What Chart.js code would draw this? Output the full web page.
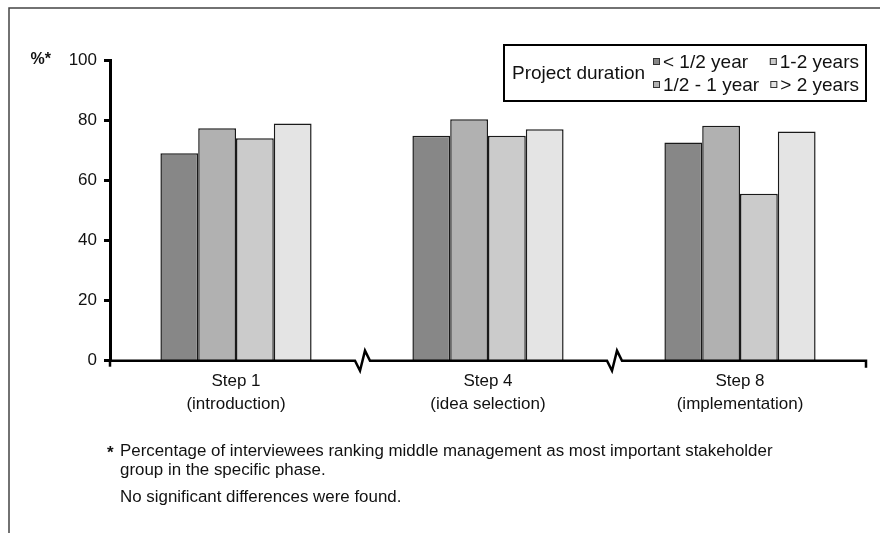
<!DOCTYPE html>
<html>
<head>
<meta charset="utf-8">
<script src="https://cdn.jsdelivr.net/npm/chart.js@4.4.1/dist/chart.umd.min.js"></script>
<style>
  html, body { margin: 0; padding: 0; background: #ffffff; }
  #wrap { width: 880px; height: 533px; position: relative; }
</style>
</head>
<body>
<div id="wrap"><canvas id="c" width="880" height="533"></canvas></div>
<script>
// Phases of the idea-management process (two-line axis labels)
const categories = [
  ["Step 1", "(introduction)"],
  ["Step 4", "(idea selection)"],
  ["Step 8", "(implementation)"]
];
// Project duration groups
const durations = ["< 1/2 year", "1/2 - 1 year", "1-2 years", "> 2 years"];
// Share of interviewees (%) per phase
const lessThanHalfYear = [69.0, 74.8, 72.6];
const halfToOneYear    = [77.3, 80.3, 78.1];
const oneToTwoYears    = [74.0, 74.8, 55.5];
const moreThanTwoYears = [78.9, 77.0, 76.2];
const yTicks = [0, 20, 40, 60, 80, 100];

const yTitle = "%*";
const legendTitle = "Project duration";
const footnoteMark = "*";
const footnoteLines = [
  "Percentage of interviewees ranking middle management as most important stakeholder",
  "group in the specific phase."
];
const footnoteExtra = "No significant differences were found.";

const fills = ["#878787", "#b1b1b1", "#cbcbcb", "#e4e4e4"];
const FONT = "'Liberation Sans', Arial, sans-serif";
const INK = "#111111";

// Frame, axis line with break marks, legend box and footnote
const decorations = {
  id: "decorations",
  afterDatasetsDraw(chart) {
    const ctx = chart.ctx;
    const x = chart.scales.x, y = chart.scales.y;
    const y0 = y.getPixelForValue(0);
    ctx.save();
    ctx.strokeStyle = "#000";
    ctx.lineWidth = 2.5;
    ctx.lineJoin = "miter";
    // x axis with zig-zag breaks between phases
    ctx.beginPath();
    ctx.moveTo(x.left - 6, y0);
    for (let i = 0; i < categories.length - 1; i++) {
      const b = x.getPixelForValue(i + 0.5);
      ctx.lineTo(b - 7, y0);
      ctx.lineTo(b - 2, y0 + 10);
      ctx.lineTo(b + 3, y0 - 10);
      ctx.lineTo(b + 8, y0);
    }
    ctx.lineTo(x.right, y0);
    ctx.lineTo(x.right, y0 + 7);
    ctx.stroke();
    // y axis runs slightly past the origin
    ctx.beginPath();
    ctx.moveTo(y.right, y0);
    ctx.lineTo(y.right, y0 + 6);
    ctx.stroke();
    ctx.restore();
  },
  afterDraw(chart) {
    const ctx = chart.ctx;
    const y = chart.scales.y;
    ctx.save();
    // outer frame (top and left)
    ctx.strokeStyle = "#444";
    ctx.lineWidth = 1.5;
    ctx.beginPath();
    ctx.moveTo(9, 533);
    ctx.lineTo(9, 8);
    ctx.lineTo(880, 8);
    ctx.stroke();

    // y axis title
    ctx.fillStyle = INK;
    ctx.font = "bold 16px " + FONT;
    ctx.textAlign = "right";
    ctx.textBaseline = "middle";
    ctx.fillText(yTitle, 51, y.getPixelForValue(100));

    // legend box
    const bx = 504, by = 45, bw = 362, bh = 56;
    ctx.fillStyle = "#fff";
    ctx.fillRect(bx, by, bw, bh);
    ctx.strokeStyle = "#000";
    ctx.lineWidth = 2;
    ctx.strokeRect(bx, by, bw, bh);
    ctx.fillStyle = INK;
    ctx.font = "19px " + FONT;
    ctx.textBaseline = "middle";
    ctx.textAlign = "left";
    ctx.fillText(legendTitle, 512, by + bh / 2 + 1);
    const rowY = [by + 17, by + 40];
    chart.data.datasets.forEach((ds, i) => {
      const col = Math.floor(i / 2), row = i % 2;
      const my = rowY[row];
      let mx, tx;
      if (col === 0) {
        mx = 653; tx = mx + 10;
        ctx.textAlign = "left";
      } else {
        tx = 859;
        ctx.textAlign = "right";
        mx = tx - ctx.measureText(ds.label).width - 10;
      }
      ctx.fillStyle = ds.backgroundColor;
      ctx.fillRect(mx, my - 4, 7, 7);
      ctx.strokeStyle = "#333";
      ctx.lineWidth = 1;
      ctx.strokeRect(mx + 0.5, my - 3.5, 6, 6);
      ctx.fillStyle = INK;
      ctx.fillText(ds.label, tx, my + 1);
    });

    // footnote
    ctx.textAlign = "left";
    ctx.font = "bold 17px " + FONT;
    ctx.fillText(footnoteMark, 107, 453);
    ctx.font = "16.9px " + FONT;
    ctx.fillText(footnoteLines[0], 120, 451);
    ctx.fillText(footnoteLines[1], 120, 470);
    ctx.fillText(footnoteExtra, 120, 497);
    ctx.restore();
  }
};

const seriesValues = [lessThanHalfYear, halfToOneYear, oneToTwoYears, moreThanTwoYears];

new Chart(document.getElementById("c"), {
  type: "bar",
  data: {
    labels: categories,
    datasets: durations.map((name, i) => ({
      label: name,
      data: seriesValues[i],
      backgroundColor: fills[i],
      borderColor: "#1a1a1a",
      borderWidth: 1.5,
      categoryPercentage: 0.6,
      barPercentage: 1.0
    }))
  },
  options: {
    responsive: false,
    devicePixelRatio: 1,
    animation: false,
    layout: { padding: { left: 0, top: 60, right: 14, bottom: 0 } },
    plugins: {
      legend: { display: false },
      tooltip: { enabled: false },
      title: { display: false }
    },
    scales: {
      x: {
        type: "category",
        offset: true,
        grid: { display: false, drawTicks: false },
        border: { display: false },
        ticks: {
          color: INK,
          font: { family: FONT, size: 17, lineHeight: 1.3 },
          padding: 10,
          maxRotation: 0,
          autoSkip: false
        },
        afterFit(scale) { scale.height = 172.3; }
      },
      y: {
        min: 0,
        max: 100,
        afterBuildTicks(scale) { scale.ticks = yTicks.map(v => ({ value: v })); },
        grid: {
          drawOnChartArea: false,
          drawTicks: true,
          tickLength: 6,
          tickWidth: 3,
          tickColor: "#000"
        },
        border: { display: true, color: "#000", width: 3 },
        ticks: {
          color: INK,
          font: { family: FONT, size: 17 },
          padding: 7
        },
        afterFit(scale) { scale.width = 110; }
      }
    }
  },
  plugins: [decorations]
});
</script>
</body>
</html>
